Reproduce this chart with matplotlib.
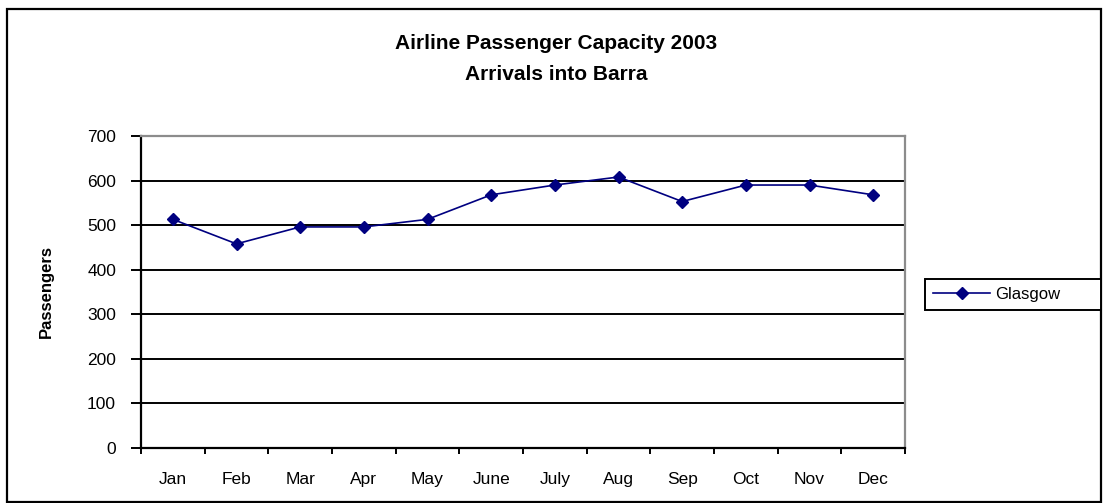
import numpy as np
import matplotlib
matplotlib.use("Agg")
import matplotlib.pyplot as plt
from matplotlib.patches import Rectangle

# chart data
months = ["Jan", "Feb", "Mar", "Apr", "May", "June", "July", "Aug", "Sep", "Oct", "Nov", "Dec"]
glasgow = [513, 458, 496, 496, 513, 568, 590, 608, 553, 590, 590, 568]
yticks = [0, 100, 200, 300, 400, 500, 600, 700]

plt.rcParams['font.family'] = ['Liberation Sans', 'DejaVu Sans']

W, H = 1103, 503
fig = plt.figure(figsize=(W / 100, H / 100), dpi=100)
fig.patch.set_facecolor("white")

# plot area in pixel terms -> figure fractions
left, right, top, bottom = 141, 905, 136, 448
ax = fig.add_axes([left / W, 1 - bottom / H, (right - left) / W, (bottom - top) / H])

x = np.arange(len(months))
ax.plot(x, glasgow, color="#000080", lw=1.2, marker="D", markersize=6.5,
        markerfacecolor="#000080", markeredgecolor="#000080", label="Glasgow", zorder=3)

ax.set_xlim(-0.5, len(months) - 0.5)
ax.set_ylim(0, 700)

# y axis
ax.set_yticks(yticks)
ax.yaxis.grid(True, color="black", lw=1.4)
ax.set_axisbelow(True)
ax.tick_params(axis="y", direction="out", length=7, width=1.4, labelsize=12.5, pad=11)

# x axis: ticks on category boundaries, labels centred in each category
ax.set_xticks(np.arange(-0.5, len(months), 1.0))
ax.set_xticklabels([])
ax.set_xticks(x, minor=True)
ax.set_xticklabels(months, minor=True)
ax.tick_params(axis="x", which="major", direction="out", length=4, width=1.4)
ax.tick_params(axis="x", which="minor", length=0, labelsize=12.5, pad=17)

for side in ("left", "bottom"):
    ax.spines[side].set_color("black")
    ax.spines[side].set_linewidth(1.6)
for side in ("top", "right"):
    ax.spines[side].set_color("#8c8c8c")
    ax.spines[side].set_linewidth(1.6)

ax.set_ylabel("Passengers", fontsize=12, fontweight="bold")
ax.yaxis.set_label_coords((46 - left) / (right - left), 0.5)
ax.yaxis.label.set_verticalalignment("center")

fig.suptitle("Airline Passenger Capacity 2003\nArrivals into Barra", x=556 / W, y=1 - 59 / H,
             va="center", fontsize=15, fontweight="bold", linespacing=1.85)

# legend box spans the same width as in the original
leg = fig.legend(loc="center left", bbox_to_anchor=(925 / W, 1 - 312 / H, 176 / W, 35 / H),
                 mode="expand", fontsize=12,
                 frameon=True, fancybox=False, framealpha=1, edgecolor="black",
                 handlelength=3.4, handletextpad=0.3, borderpad=0.5, borderaxespad=0)
leg.get_frame().set_linewidth(1.4)

# outer chart border
fig.patches.append(Rectangle((7 / W, 1.5 / H), (1101 - 7) / W, (494 - 1.5) / H,
                             transform=fig.transFigure, fill=False, edgecolor="black", lw=1.6))

fig.savefig("out.png", dpi=100)
